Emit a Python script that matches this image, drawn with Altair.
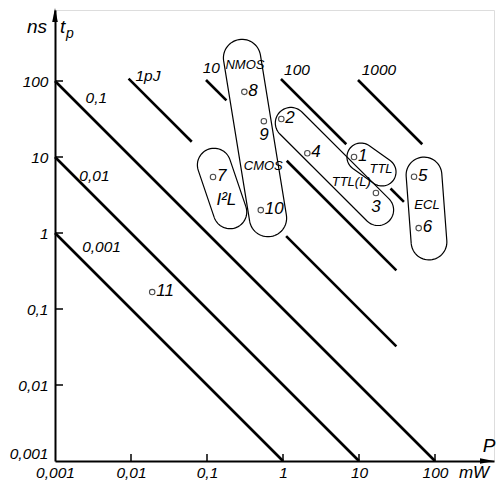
import math
import altair as alt
import pandas as pd

# ---------------- data ----------------
# constant power-delay product lines (pJ) drawn as segments between P start / P end (mW)
seg_energy = [0.001, 0.01, 0.1, 1, 1, 10, 10, 100, 100, 1000]
seg_p_start = [0.001, 0.001, 0.001, 0.0093, 1.1, 0.097, 1.12, 0.94, 26, 9.7]
seg_p_end = [1, 10, 100, 0.063, 31, 0.18, 31, 6.8, 39, 68]

energy_labels = ["0,001", "0,01", "0,1", "1pJ", "10", "100", "1000"]
energy_label_p = [0.0041, 0.0033, 0.0035, 0.0167, 0.114, 1.53, 18.3]
energy_label_t = [0.65, 5.7, 60, 117, 148, 140, 140]

# numbered technology points (P in mW, tp in ns)
point_ids = ["1", "2", "3", "4", "5", "6", "7", "8", "9", "10", "11"]
point_p = [8.6, 0.95, 16.7, 2.09, 53, 61, 0.12, 0.31, 0.56, 0.51, 0.019]
point_t = [10, 31.6, 3.36, 11.2, 5.5, 1.16, 5.46, 72, 29.6, 2.0, 0.167]
labels_below = ["3", "9"]

# family names
group_names = ["NMOS", "CMOS", "I\u00b2L", "TTL(L)", "TTL", "ECL"]
group_label_p = [0.316, 0.55, 0.18, 7.9, 19.5, 78.5]
group_label_t = [163, 7.6, 2.7, 4.7, 6.95, 2.33]
large_group_labels = ["I\u00b2L"]

# enclosing capsules: end centres (P, t) and radius in decades
caps_names = ["NMOS/CMOS", "I2L", "TTL(L)", "TTL", "ECL"]
caps_p1 = [0.289, 0.124, 1.27, 10.6, 71.6]
caps_t1 = [201, 7.85, 28, 10, 5.8]
caps_p2 = [0.635, 0.201, 17.8, 20.1, 83.4]
caps_t2 = [1.57, 1.89, 2.01, 6.35, 0.76]
caps_r = [0.245, 0.22, 0.205, 0.184, 0.235]

axis_values = [0.001, 0.01, 0.1, 1, 10, 100]
tick_values = [0.01, 0.1, 1, 10, 100]

# ---------------- layout ----------------
W, H = 439, 451
XMAX = 10 ** (-3 + W / 76.0)
YMAX = 10 ** (-3 + H / 76.0)
FONT = "Liberation Sans"

xs = alt.Scale(type="log", domain=[0.001, XMAX])
ys = alt.Scale(type="log", domain=[0.001, YMAX])

# ---------------- tables ----------------
rows = []
for i, (e, a, b) in enumerate(zip(seg_energy, seg_p_start, seg_p_end)):
    rows.append({"seg": i, "P": a, "t": e / a})
    rows.append({"seg": i, "P": b, "t": e / b})
lines_df = pd.DataFrame(rows)

elab_df = pd.DataFrame({"txt": energy_labels, "P": energy_label_p, "t": energy_label_t})
pts_df = pd.DataFrame({"id": point_ids, "P": point_p, "t": point_t})
pts_df["below"] = pts_df["id"].isin(labels_below)
grp_df = pd.DataFrame({"txt": group_names, "P": group_label_p, "t": group_label_t})
grp_df["big"] = grp_df["txt"].isin(large_group_labels)

cap_rows = []
for name, p1, t1, p2, t2, r in zip(caps_names, caps_p1, caps_t1, caps_p2, caps_t2, caps_r):
    x1, y1, x2, y2 = math.log10(p1), math.log10(t1), math.log10(p2), math.log10(t2)
    ang = math.atan2(y2 - y1, x2 - x1)
    k = 0
    n = 30
    for j in range(n + 1):
        a = ang - math.pi / 2 + math.pi * j / n
        cap_rows.append({"cap": name, "o": k, "P": 10 ** (x2 + r * math.cos(a)), "t": 10 ** (y2 + r * math.sin(a))})
        k += 1
    for j in range(n + 1):
        a = ang + math.pi / 2 + math.pi * j / n
        cap_rows.append({"cap": name, "o": k, "P": 10 ** (x1 + r * math.cos(a)), "t": 10 ** (y1 + r * math.sin(a))})
        k += 1
    a = ang - math.pi / 2
    cap_rows.append({"cap": name, "o": k, "P": 10 ** (x2 + r * math.cos(a)), "t": 10 ** (y2 + r * math.sin(a))})
caps_df = pd.DataFrame(cap_rows)

ticks_df = pd.DataFrame({"v": tick_values})

label_expr = "replace(toString(datum.value), '.', ',')"

# ---------------- layers ----------------
energy = alt.Chart(lines_df).mark_line(color="black", strokeWidth=2.6).encode(
    x=alt.X("P:Q", scale=xs, axis=alt.Axis(
        values=axis_values, labelExpr=label_expr, ticks=False, grid=False,
        domain=True, domainColor="black", domainWidth=2, labelFlush=False,
        labelFont=FONT, labelFontStyle="italic", labelFontSize=15.5, labelColor="black",
        labelPadding=4, title=None)),
    y=alt.Y("t:Q", scale=ys, axis=alt.Axis(
        values=axis_values, labelExpr=label_expr, ticks=False, grid=False,
        domain=True, domainColor="black", domainWidth=2, labelFlush=True,
        labelFont=FONT, labelFontStyle="italic", labelFontSize=15.5, labelColor="black",
        labelPadding=7, title=None)),
    detail="seg:N",
)

energy_text = alt.Chart(elab_df).mark_text(
    font=FONT, fontStyle="italic", fontSize=15.5, color="black"
).encode(x=alt.X("P:Q", scale=xs), y=alt.Y("t:Q", scale=ys), text="txt:N")

caps = alt.Chart(caps_df).mark_line(color="black", strokeWidth=1.2).encode(
    x=alt.X("P:Q", scale=xs), y=alt.Y("t:Q", scale=ys), order="o:Q", detail="cap:N"
)

points = alt.Chart(pts_df).mark_point(
    shape="circle", filled=False, color="black", size=30, strokeWidth=1.1
).encode(x=alt.X("P:Q", scale=xs), y=alt.Y("t:Q", scale=ys))

num_right = alt.Chart(pts_df).transform_filter("!datum.below").mark_text(
    font=FONT, fontStyle="italic", fontSize=17, color="black", align="left", dx=4, dy=-1
).encode(x=alt.X("P:Q", scale=xs), y=alt.Y("t:Q", scale=ys), text="id:N")

num_below = alt.Chart(pts_df).transform_filter("datum.below").mark_text(
    font=FONT, fontStyle="italic", fontSize=17, color="black", align="center", dy=14
).encode(x=alt.X("P:Q", scale=xs), y=alt.Y("t:Q", scale=ys), text="id:N")

groups = alt.Chart(grp_df).transform_filter("!datum.big").mark_text(
    font=FONT, fontStyle="italic", fontSize=13, color="black"
).encode(x=alt.X("P:Q", scale=xs), y=alt.Y("t:Q", scale=ys), text="txt:N")

groups_big = alt.Chart(grp_df).transform_filter("datum.big").mark_text(
    font=FONT, fontStyle="italic", fontSize=17, color="black"
).encode(x=alt.X("P:Q", scale=xs), y=alt.Y("t:Q", scale=ys), text="txt:N")

xticks = alt.Chart(ticks_df).mark_rule(color="black", strokeWidth=1.5).encode(
    x=alt.X("v:Q", scale=xs), y=alt.value(H), y2=alt.value(H - 7)
)
yticks = alt.Chart(ticks_df).mark_rule(color="black", strokeWidth=1.5).encode(
    y=alt.Y("v:Q", scale=ys), x=alt.value(0), x2=alt.value(8)
)

arrow_df = pd.DataFrame({"a": [0]})
arrow_up = alt.Chart(arrow_df).mark_point(
    shape="M0,-1L0.4,1L-0.4,1Z", filled=True, color="black", size=196, opacity=1
).encode(x=alt.value(0), y=alt.value(5))
arrow_right = alt.Chart(arrow_df).mark_point(
    shape="M1,0L-1,0.4L-1,-0.4Z", filled=True, color="black", size=196, opacity=1
).encode(x=alt.value(W - 7), y=alt.value(H))

def label(txt, x, y, size=18, align="center"):
    return alt.Chart(arrow_df).mark_text(
        text=txt, font=FONT, fontStyle="italic", fontSize=size, color="black", align=align
    ).encode(x=alt.value(x), y=alt.value(y))

titles = [
    label("ns", -18, 17, 19),
    label("t", 5, 17, 19, "left"),
    label("p", 11, 24, 14, "left"),
    label("P", 434, 436, 19),
    label("mW", 419, 463, 17),
]

chart = alt.layer(
    energy, caps, energy_text, points, num_right, num_below, groups, groups_big,
    xticks, yticks, arrow_up, arrow_right, *titles
).properties(
    width=W, height=H,
    padding={"left": 47, "top": 2, "right": 2, "bottom": 20},
    autosize=alt.AutoSizeParams(type="none"),
).configure_view(stroke=None).configure(background="white")

chart.save("out.html", embed_options={"renderer": "svg", "actions": False})
